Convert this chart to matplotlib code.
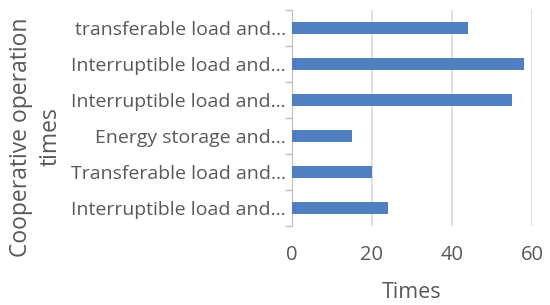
import matplotlib.pyplot as plt

categories = ["Interruptible load and...", "Transferable load and...", "Energy storage and...",
              "Interruptible load and...", "Interruptible load and...", "transferable load and..."]
values = [24, 20, 15, 55, 58, 44]
xticks = [0, 20, 40, 60]

plt.rcParams['font.family'] = ['Open Sans', 'DejaVu Sans']
gray = '#595959'

fig = plt.figure(figsize=(5.5, 3.05), dpi=100)
ax = fig.add_axes([0.5303, 0.259, 0.4375, 0.708])
y = range(len(categories))
ax.barh(list(y), values, height=0.34, color='#4F7FC0', zorder=3)
ax.set_xlim(0, 60)
ax.set_ylim(-0.5, len(categories) - 0.5)
ax.set_xticks(xticks)
ax.set_xticklabels([str(t) for t in xticks], fontsize=14.5, color=gray)
ax.set_yticks(list(y))
ax.set_yticklabels(categories, fontsize=14, color=gray)
ax.tick_params(axis='y', length=0, pad=4)
ax.tick_params(axis='x', length=0, pad=14)
# minor ticks at category boundaries
ax.set_yticks([i - 0.5 for i in range(len(categories) + 1)], minor=True)
ax.tick_params(axis='y', which='minor', length=5, color='#BFBFBF', width=1)
ax.grid(axis='x', color='#D9D9D9', linewidth=1.2, zorder=0)
for s in ['top', 'right', 'bottom']:
    ax.spines[s].set_visible(False)
ax.spines['left'].set_color('#BFBFBF')
ax.set_xlabel('Times', fontsize=15.5, color=gray)
ax.xaxis.label.set_va('center')
ax.xaxis.set_label_coords(0.5, -0.31)
fig.text(0.065, 0.551, 'Cooperative operation\ntimes', rotation=90, ha='center', va='center',
         fontsize=16.5, color=gray, multialignment='center', linespacing=1.3)
fig.savefig('out.png', dpi=100)
